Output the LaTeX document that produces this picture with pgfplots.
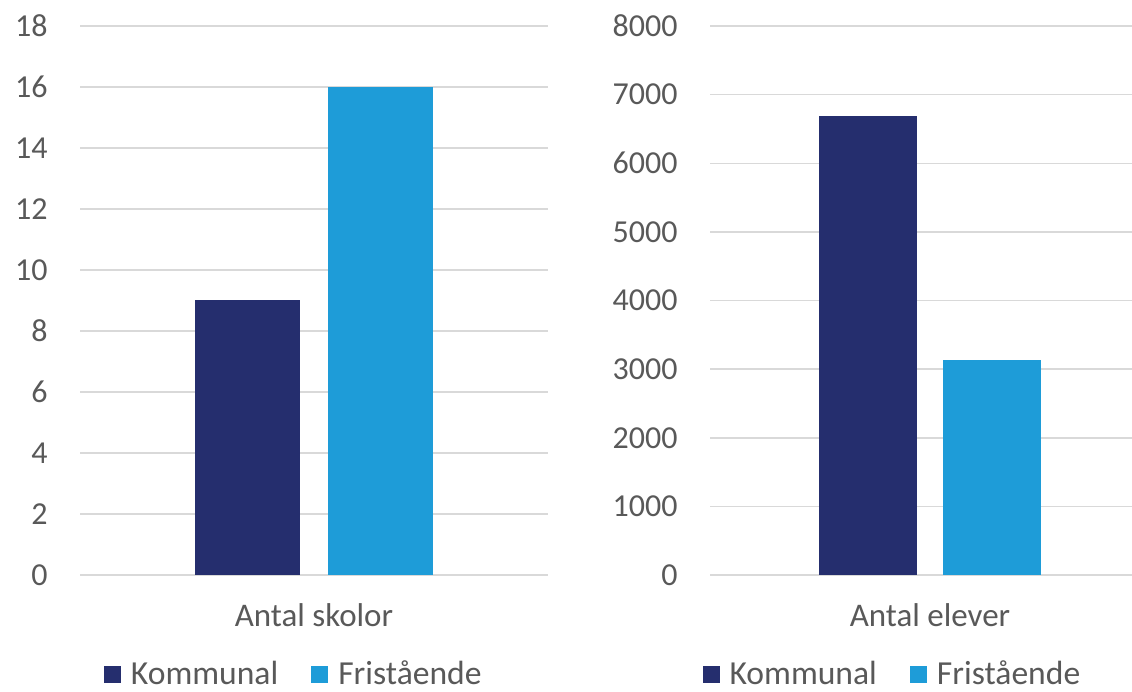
\documentclass[border=0pt]{standalone}
\usepackage{pgfplots}
\pgfplotsset{compat=1.18}
\usepackage{fontspec}
\setmainfont{Carlito}
\definecolor{navy}{HTML}{252E6E}
\definecolor{lblue}{HTML}{1E9CD8}
\definecolor{gridc}{HTML}{D9D9D9}
\definecolor{txt}{HTML}{595959}
\pgfplotsset{
  sq/.style={legend image code/.code={\fill[##1] (0pt,-4.25pt) rectangle (8.5pt,4.25pt); \path (11pt,0pt);}},
  mystyle/.style={
    scale only axis,
    ybar,
    axis line style={draw=none},
    major tick length=0pt,
    ymajorgrids,
    grid style={gridc, line width=0.75pt},
    ymin=0,
    xmin=-0.5, xmax=0.5,
    xtick={0},
    /pgf/number format/assume math mode=true,
    /pgf/number format/1000 sep={},
    scaled y ticks=false,
    tick label style={font=\fontsize{16}{19}\selectfont, text=txt, inner sep=0pt},
    xticklabel style={font=\fontsize{16.5}{19}\selectfont},
    yticklabel shift=16pt,
    xticklabel shift=14pt,
    legend columns=2,
    legend cell align=left,
    legend style={draw=none, fill=none, font=\fontsize{16.8}{19}\selectfont, text=txt,
      anchor=center, inner sep=0pt, /tikz/every even column/.append style={column sep=14pt},
      nodes={inner xsep=2.5pt, inner ysep=0pt}},
  }
}
\begin{document}
\begin{tikzpicture}
\useasboundingbox (0,0) rectangle (566pt,346pt);
\begin{axis}[mystyle,
  at={(40pt,58.5pt)}, anchor=south west,
  width=234pt, height=274.5pt,
  ymax=18, ytick={0,2,...,18},
  bar width=52.5pt, ybar=14pt,
  xticklabels={Antal skolor},
  legend style={at={(0.46,-0.181)}},
]
\addplot[fill=navy, draw=none, sq] coordinates {(0,9)};
\addplot[fill=lblue, draw=none, sq] coordinates {(0,16)};
\legend{Kommunal, Fristående}
\end{axis}
\begin{axis}[mystyle,
  at={(355pt,58.5pt)}, anchor=south west,
  width=220pt, height=274.5pt,
  ymax=8000, ytick={0,1000,...,8000},
  bar width=49pt, ybar=13pt,
  xticklabels={Antal elever},
  legend style={at={(0.418,-0.181)}},
]
\addplot[fill=navy, draw=none, sq] coordinates {(0,6690)};
\addplot[fill=lblue, draw=none, sq] coordinates {(0,3130)};
\legend{Kommunal, Fristående}
\end{axis}
\end{tikzpicture}
\end{document}
